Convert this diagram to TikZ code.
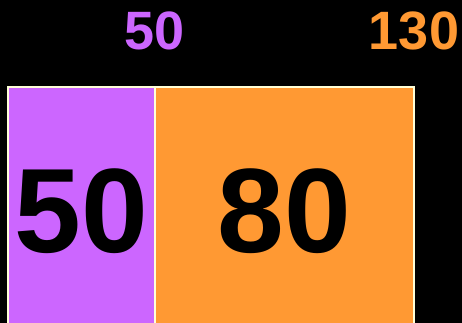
\documentclass[tikz,border=0pt]{standalone}
\usepackage{fontspec}
\setmainfont{Liberation Sans}
\usepackage{tikz}
\usetikzlibrary{positioning, calc}
\usepackage{xcolor}
\definecolor{barpurple}{RGB}{204, 102, 255}
\definecolor{barorange}{RGB}{255, 153, 51}
\definecolor{barline}{RGB}{255, 255, 215}
\tikzstyle{bar} = [rectangle, draw=barline, line width=1.2pt, minimum height=260pt, inner sep=0pt, outer sep=0pt, anchor=north west]
\tikzstyle{total} = [font=\bfseries\fontsize{54}{54}\selectfont, anchor=base, inner sep=0pt]
\tikzstyle{amount} = [font=\bfseries\fontsize{120}{120}\selectfont, anchor=base, text=black, inner sep=0pt]

\begin{document}
\begin{tikzpicture}[x=1pt, y=1pt]
    % Background
    \useasboundingbox[fill=black] (0,0) rectangle (462,323);
    \clip (0,0) rectangle (462,323);

    % Bars
    \node (purple) [bar, fill=barpurple, minimum width=147pt] at (8,236) {};
    \node (orange) [bar, fill=barorange, minimum width=259pt] at (purple.north east) {};

    % Running totals
    \node (sumA) [total, text=barpurple] at (purple.north east |- 0,273) {50};
    \node (sumB) [total, text=barorange] at (orange.north east |- 0,273) {130};

    % Values
    \node (valA) [amount] at (purple.north |- 0,70) {50};
    \node (valB) [amount] at (orange.north |- 0,70) {80};

\end{tikzpicture}
\end{document}
